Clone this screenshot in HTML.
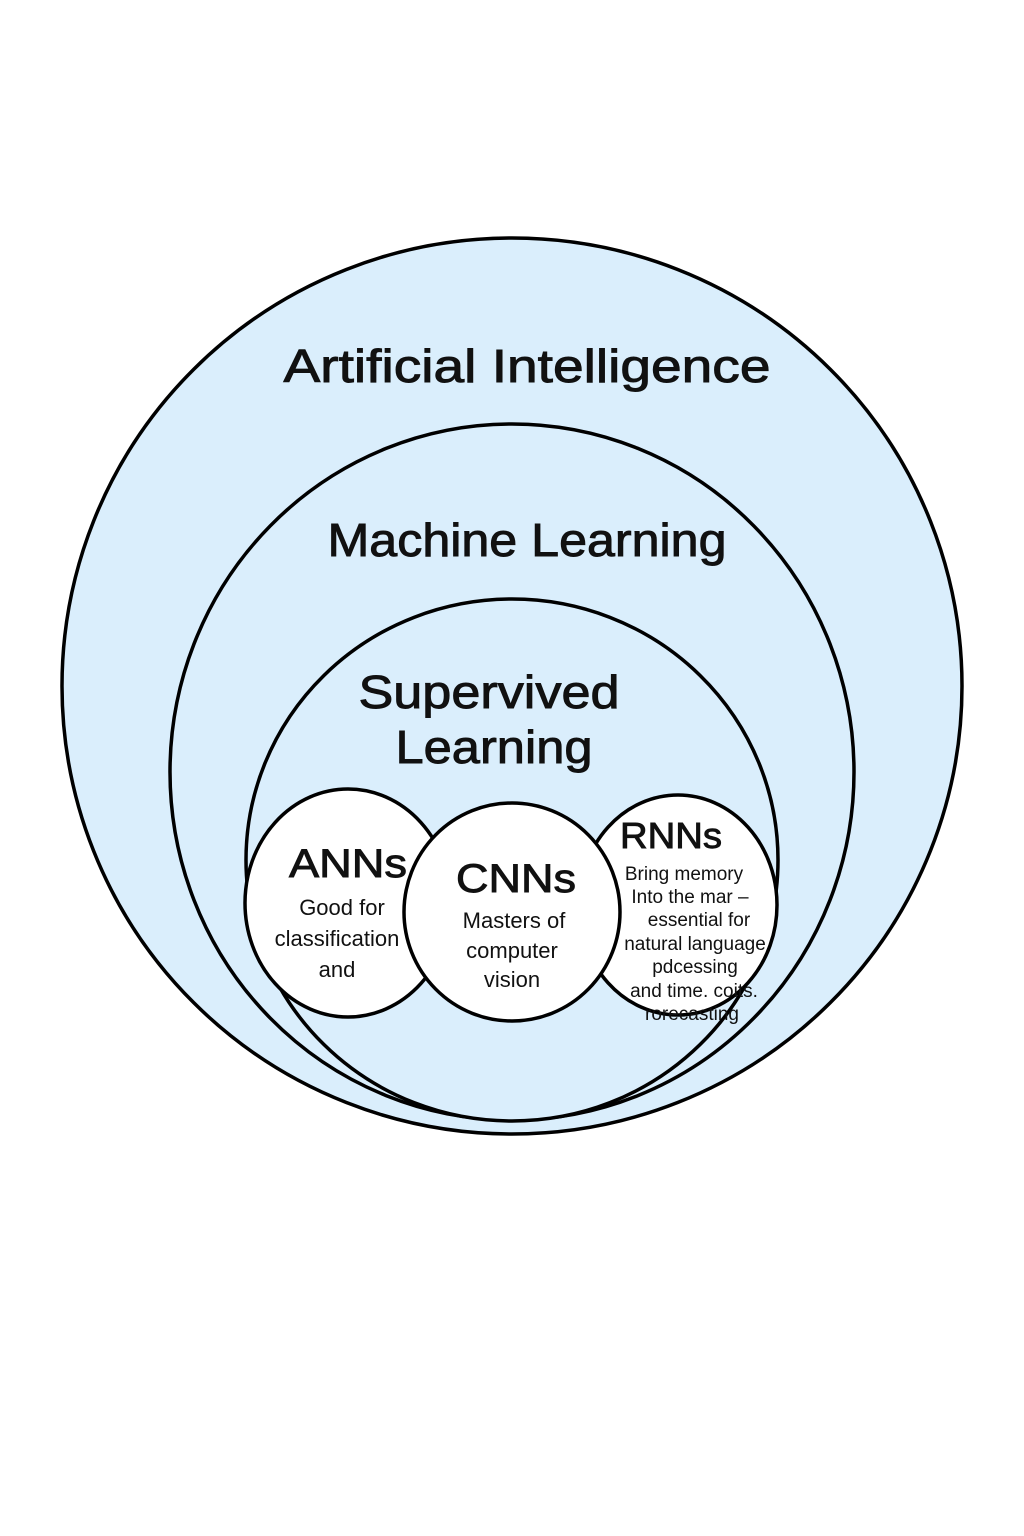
<!DOCTYPE html>
<html><head><style>
html,body{margin:0;padding:0;background:#fff;}
svg{display:block;}
text{font-family:"Liberation Sans","DejaVu Sans",sans-serif;fill:#111;text-anchor:middle;}
.t{stroke:#111;stroke-width:0.9;}
</style></head><body>
<svg width="1024" height="1536" viewBox="0 0 1024 1536">
<g stroke="#000" stroke-width="3.5">
<ellipse cx="512" cy="686" rx="450" ry="448" fill="#daeefc"/>
<ellipse cx="512" cy="772" rx="342" ry="348" fill="#daeefc"/>
<ellipse cx="512" cy="860" rx="266" ry="261" fill="#daeefc"/>
<ellipse cx="348" cy="903" rx="103" ry="114" fill="#fff"/>
<ellipse cx="678" cy="905" rx="99" ry="110" fill="#fff"/>
<ellipse cx="512" cy="912" rx="108" ry="109" fill="#fff"/>
</g>
<text class="t" x="527" y="382" font-size="46" textLength="487" lengthAdjust="spacingAndGlyphs">Artificial Intelligence</text>
<text class="t" x="527" y="556" font-size="46" textLength="399" lengthAdjust="spacingAndGlyphs">Machine Learning</text>
<text class="t" x="489" y="708" font-size="46" textLength="261" lengthAdjust="spacingAndGlyphs">Supervived</text>
<text class="t" x="494" y="763" font-size="46" textLength="197" lengthAdjust="spacingAndGlyphs">Learning</text>
<text class="t" x="348" y="877" font-size="40" textLength="118" lengthAdjust="spacingAndGlyphs">ANNs</text>
<text x="342" y="915" font-size="22">Good for</text>
<text x="337" y="946" font-size="22">classification</text>
<text x="337" y="977" font-size="22">and</text>
<text class="t" x="516" y="892" font-size="40" textLength="120" lengthAdjust="spacingAndGlyphs">CNNs</text>
<text x="514" y="928" font-size="22">Masters of</text>
<text x="512" y="958" font-size="22">computer</text>
<text x="512" y="987" font-size="22">vision</text>
<text class="t" x="671" y="848" font-size="36" textLength="102" lengthAdjust="spacingAndGlyphs">RNNs</text>
<text x="684" y="880" font-size="19">Bring memory</text>
<text x="690" y="903" font-size="19">Into the mar –</text>
<text x="699" y="926" font-size="19">essential for</text>
<text x="695" y="950" font-size="19">natural language</text>
<text x="695" y="973" font-size="19">pdcessing</text>
<text x="694" y="997" font-size="19">and time. coits.</text>
<text x="692" y="1020" font-size="19">rorecasting</text>
</svg>
</body></html>
